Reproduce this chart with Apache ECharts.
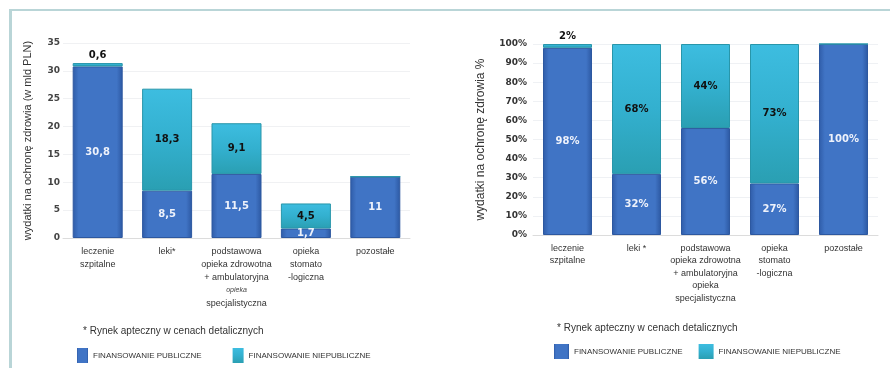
<!DOCTYPE html>
<html>
<head>
<meta charset="utf-8">
<script src="https://cdn.jsdelivr.net/npm/echarts@6/dist/echarts.min.js"></script>
<style>
  html, body { margin: 0; padding: 0; background: #fff; }
  #chart { width: 890px; height: 378px; }
</style>
</head>
<body>
<div id="chart"></div>
<script>
// Categories (left chart allows rich text for the small italic word)
const categoriesAmount = [
  'leczenie\nszpitalne',
  'leki*',
  'podstawowa\nopieka zdrowotna\n+ ambulatoryjna\n{i|opieka}\nspecjalistyczna',
  'opieka\nstomato\n-logiczna',
  'pozostałe'
];
const categoriesShare = [
  'leczenie\nszpitalne',
  'leki *',
  'podstawowa\nopieka zdrowotna\n+ ambulatoryjna\nopieka\nspecjalistyczna',
  'opieka\nstomato\n-logiczna',
  'pozostałe'
];

// Health expenditure, bln PLN
const publicBln = [30.8, 8.5, 11.5, 1.7, 11];
const privateBln = [0.6, 18.3, 9.1, 4.5, 0];

// Share of expenditure, %
const publicPct = [98, 32, 56, 27, 100];
const privatePct = [2, 68, 44, 73, 0];

// Value-axis ticks
const ticksBln = [0, 5, 10, 15, 20, 25, 30, 35];
const ticksPct = [0, 10, 20, 30, 40, 50, 60, 70, 80, 90, 100];

const seriesNames = ['FINANSOWANIE PUBLICZNE', 'FINANSOWANIE NIEPUBLICZNE'];
const footnote = '* Rynek apteczny w cenach detalicznych';

const G = echarts.graphic;
const publicFill = new G.LinearGradient(0, 0, 1, 0, [
  { offset: 0, color: '#2f5ca8' },
  { offset: 0.12, color: '#4074c5' },
  { offset: 0.88, color: '#4074c5' },
  { offset: 1, color: '#2c58a2' }
]);
const privateFill = new G.LinearGradient(0, 0, 0, 1, [
  { offset: 0, color: '#3dbde0' },
  { offset: 0.5, color: '#33b0cf' },
  { offset: 1, color: '#2a9fb2' }
]);

const fmtComma = v => String(v).replace('.', ',');

function privateItems(values, fmt) {
  return values.map((v, i) => ({
    value: v,
    label: i === 0
      ? { show: true, position: 'top', distance: 3, color: '#111', formatter: () => fmt(v) }
      : { show: v > 0, position: 'inside', color: '#111', formatter: () => fmt(v) }
  }));
}

const catAxisBase = {
  type: 'category',
  axisTick: { show: false },
  axisLine: { lineStyle: { color: '#dcdcdc' } },
  axisLabel: {
    interval: 0,
    color: '#333',
    fontFamily: 'Liberation Sans',
    fontSize: 9,
    lineHeight: 13,
    margin: 7,
    verticalAlign: 'top'
  }
};

const barLabelBase = {
  fontFamily: 'DejaVu Sans',
  fontWeight: 'bold',
  fontSize: 10
};

const legendBase = {
  data: seriesNames,
  icon: 'rect',
  itemHeight: 15,
  selectedMode: false,
  itemStyle: { borderWidth: 0 },
  textStyle: { fontFamily: 'Liberation Sans', fontSize: 8, color: '#333' }
};

const chart = echarts.init(document.getElementById('chart'), null, { renderer: 'canvas' });

chart.setOption({
  animation: false,
  backgroundColor: '#fff',
  grid: [
    { left: 63, right: 480, top: 43, bottom: 140 },
    { left: 533, right: 12, top: 44, bottom: 143 }
  ],
  xAxis: [
    Object.assign({}, catAxisBase, {
      gridIndex: 0,
      data: categoriesAmount,
      axisLabel: Object.assign({}, catAxisBase.axisLabel, {
        rich: { i: { fontSize: 7, fontStyle: 'italic', color: '#444', lineHeight: 13 } }
      })
    }),
    Object.assign({}, catAxisBase, {
      gridIndex: 1,
      data: categoriesShare,
      axisLabel: Object.assign({}, catAxisBase.axisLabel, { lineHeight: 12.5 })
    })
  ],
  yAxis: [
    {
      type: 'value',
      gridIndex: 0,
      min: ticksBln[0],
      max: ticksBln[ticksBln.length - 1],
      interval: ticksBln[1] - ticksBln[0],
      name: 'wydatki na ochronę zdrowia (w mld PLN)',
      nameLocation: 'middle',
      nameGap: 30,
      nameTextStyle: { fontFamily: 'Liberation Sans', fontSize: 11, color: '#333' },
      axisLine: { show: false },
      axisTick: { show: false },
      axisLabel: { fontFamily: 'DejaVu Sans', fontSize: 9, fontWeight: 'bold', color: '#444', margin: 3 },
      splitLine: { lineStyle: { color: '#f0f1f3' } }
    },
    {
      type: 'value',
      gridIndex: 1,
      min: ticksPct[0],
      max: ticksPct[ticksPct.length - 1],
      interval: ticksPct[1] - ticksPct[0],
      name: 'wydatki na ochronę zdrowia %',
      nameLocation: 'middle',
      nameGap: 46,
      nameTextStyle: { fontFamily: 'Liberation Sans', fontSize: 12, color: '#333' },
      axisLine: { show: false },
      axisTick: { show: false },
      axisLabel: {
        fontFamily: 'DejaVu Sans', fontSize: 9, fontWeight: 'bold', color: '#333', margin: 6,
        formatter: v => v + '%'
      },
      splitLine: { lineStyle: { color: '#eff1f4' } }
    }
  ],
  legend: [
    Object.assign({}, legendBase, { left: 72, top: 343, itemWidth: 11, itemGap: 31 }),
    Object.assign({}, legendBase, { left: 549, top: 339, itemWidth: 15, itemGap: 16 })
  ],
  graphic: [
    { type: 'rect', shape: { x: 9, y: 9, width: 881, height: 2 }, style: { fill: '#b9d5d7' }, silent: true },
    { type: 'rect', shape: { x: 9, y: 9, width: 3, height: 359 }, style: { fill: '#b9d5d7' }, silent: true },
    {
      type: 'text', left: 83, top: 326, silent: true,
      style: { text: footnote, fill: '#333', font: '10px "Liberation Sans"' }
    },
    {
      type: 'text', left: 557, top: 323, silent: true,
      style: { text: footnote, fill: '#333', font: '10px "Liberation Sans"' }
    }
  ],
  series: [
    {
      name: seriesNames[0], type: 'bar', stack: 'bln', xAxisIndex: 0, yAxisIndex: 0,
      barWidth: 50,
      data: publicBln,
      itemStyle: { color: publicFill, borderColor: '#2d58a0', borderWidth: 1 },
      label: Object.assign({ show: true, position: 'inside', color: '#eef2fb', formatter: p => fmtComma(p.value) }, barLabelBase)
    },
    {
      name: seriesNames[1], type: 'bar', stack: 'bln', xAxisIndex: 0, yAxisIndex: 0,
      barWidth: 50,
      data: privateItems(privateBln, fmtComma),
      itemStyle: { color: privateFill, borderColor: '#2896aa', borderWidth: 1 },
      label: barLabelBase
    },
    {
      name: seriesNames[0], type: 'bar', stack: 'pct', xAxisIndex: 1, yAxisIndex: 1,
      barWidth: 49,
      data: publicPct,
      itemStyle: { color: publicFill, borderColor: '#2d58a0', borderWidth: 1 },
      label: Object.assign({ show: true, position: 'inside', color: '#eef2fb', formatter: p => p.value + '%' }, barLabelBase)
    },
    {
      name: seriesNames[1], type: 'bar', stack: 'pct', xAxisIndex: 1, yAxisIndex: 1,
      barWidth: 49,
      data: privateItems(privatePct, v => v + '%'),
      itemStyle: { color: privateFill, borderColor: '#2896aa', borderWidth: 1 },
      label: barLabelBase
    }
  ]
});
</script>
</body>
</html>
